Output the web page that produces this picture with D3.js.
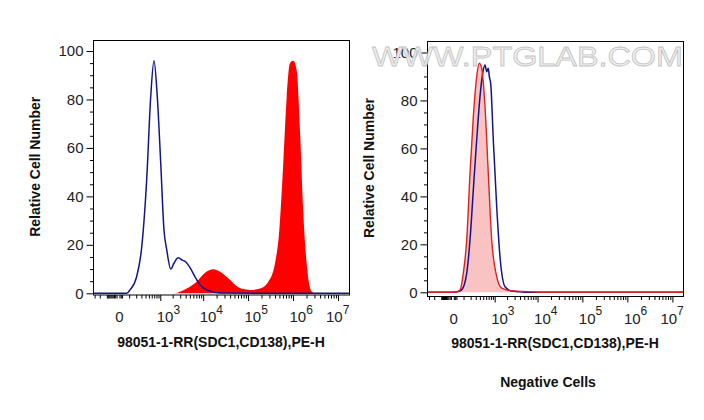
<!DOCTYPE html>
<html><head><meta charset="utf-8">
<script src="https://cdn.jsdelivr.net/npm/d3@7/dist/d3.min.js"></script>
<style>
html,body{margin:0;padding:0;background:#fff;}
svg text{font-family:"Liberation Sans",Arial,sans-serif;}
</style></head>
<body>
<svg id="chart" width="704" height="420"></svg>
<script>
// ---------- DATA ----------
const yTickValues = [0, 20, 40, 60, 80, 100];
const xMajorTicks = [1e3, 1e4, 1e5, 1e6, 1e7];
const xMajorExponents = ["3", "4", "5", "6", "7"];
const xZeroLabel = "0";
const yTitle = "Relative Cell Number";
const xTitle = "98051-1-RR(SDC1,CD138),PE-H";
const rightCaption = "Negative Cells";
const watermark = "WWW.PTGLAB.COM";

// Left panel: control (blue line) and stained (red filled)
const leftControlX = [-330, 73, 110, 208, 307, 434, 562, 689, 840, 1024, 1236, 1440, 1800, 2150, 2700, 3350, 4000, 5000, 6500, 8500, 12000, 24000, 1.75e7];
const leftControlY = [0, 0, 1.4, 6.9, 19, 47, 81, 96, 81, 54, 26, 18, 10, 12.5, 14.7, 13.7, 13, 10.7, 6.9, 3.4, 1.4, 0.1, 0];
const leftStainedX = [-330, 2070, 4230, 7140, 11000, 16900, 23800, 36500, 61000, 111000, 185000, 283000, 399000, 497000, 610000, 726000, 859000, 1017000, 1210000, 1432000, 1695000, 2080000, 2600000, 3080000, 1.75e7];
const leftStainedY = [0, 0, 2, 4.8, 8.5, 9.9, 8.9, 6.2, 2.5, 1.4, 2, 4.8, 12.4, 26, 54, 81, 95, 96, 92, 67, 33, 9.6, 0.7, 0, 0];

// Right panel: control (blue line) and stained (pink filled, red outline)
const rightControlX = [-330, 0, 46, 79, 140, 190, 249, 320, 403, 501, 559, 621, 685, 728, 792, 923, 1123, 1353, 1785, 2567, 4000, 6000, 1.75e7];
const rightControlY = [0, 0, 0.3, 1, 7.9, 21.8, 42.7, 63.5, 81.6, 92.7, 94.8, 92, 93.4, 90, 87, 63.5, 35.7, 14.8, 2.3, 0.5, 0.2, 0, 0];
const rightStainedX = [-330, 18, 62, 97, 140, 190, 249, 320, 384, 452, 559, 685, 840, 1079, 1488, 2567, 6078, 11340, 1.75e7];
const rightStainedY = [0, 0, 1, 7.9, 21.8, 49.6, 73.2, 89.9, 95.5, 93.4, 77.4, 49.6, 21.8, 7.9, 1.7, 0.6, 0.3, 0, 0];

// ---------- LAYOUT ----------
const svg = d3.select("#chart");
const BLUE = "#14148a", RED = "#ff0000", RED_LINE = "#dd2020", PINK = "#f9c3c3";

const panels = [
  {frame:{l:93.5, t:40.5, r:349.5, b:295}, x0:118, y0:293.3, y100:51,
   ctrlX:leftControlX, ctrlY:leftControlY, stX:leftStainedX, stY:leftStainedY,
   fill:RED, stroke:null, yTitleX:40, xTitleY:347},
  {frame:{l:427.5, t:41.5, r:683.5, b:296.5}, x0:452.4, y0:292.3, y100:52.5,
   ctrlX:rightControlX, ctrlY:rightControlY, stX:rightStainedX, stY:rightStainedY,
   fill:PINK, stroke:RED_LINE, yTitleX:374, xTitleY:348}
];

panels.forEach((p, i) => {
  const f = p.frame;
  const x = d3.scaleSymlog().constant(130).domain([0, 1e7]).range([p.x0, p.x0 + 220]);
  const y = d3.scaleLinear().domain([0, 100]).range([p.y0, p.y100]);
  const g = svg.append("g");
  const clipId = "clip" + i;
  svg.append("clipPath").attr("id", clipId).append("rect")
    .attr("x", f.l).attr("y", f.t).attr("width", f.r - f.l).attr("height", f.b - f.t);

  const plot = g.append("g").attr("clip-path", `url(#${clipId})`);
  const stData = p.stX.map((v, k) => [v, p.stY[k]]);
  const ctData = p.ctrlX.map((v, k) => [v, p.ctrlY[k]]);
  const area = d3.area().x(d => x(d[0])).y0(y(0)).y1(d => y(d[1])).curve(d3.curveMonotoneX);
  const line = d3.line().x(d => x(d[0])).y(d => y(d[1])).curve(d3.curveMonotoneX);

  plot.append("path").attr("d", area(stData)).attr("fill", p.fill);
  plot.append("path").attr("d", line(ctData)).attr("fill", "none").attr("stroke", BLUE).attr("stroke-width", 1.5);
  if (p.stroke) {
    plot.append("path").attr("d", line(stData)).attr("fill", "none").attr("stroke", p.stroke).attr("stroke-width", 1.4);
  }

  // frame
  g.append("rect").attr("x", f.l).attr("y", f.t).attr("width", f.r - f.l).attr("height", f.b - f.t)
    .attr("fill", "none").attr("stroke", "#000").attr("stroke-width", 1);

  // y axis: major + minor
  const yMinor = d3.range(0, 101, 5).filter(v => v % 20 !== 0);
  const yAxMaj = d3.axisLeft(y).tickValues(yTickValues).tickSize(7).tickFormat(d => d).tickPadding(3);
  const yAxMin = d3.axisLeft(y).tickValues(yMinor).tickSize(3.5).tickFormat("");
  const ya = g.append("g").attr("transform", `translate(${f.l},0)`).call(yAxMaj);
  const ym = g.append("g").attr("transform", `translate(${f.l},0)`).call(yAxMin);
  [ya, ym].forEach(s => { s.select(".domain").remove(); s.selectAll("line").attr("stroke", "#000"); });
  ya.selectAll("text").attr("font-size", 15).attr("fill", "#222")
    .style("font-family", "'Liberation Sans', Arial, sans-serif");

  // x axis: major + minor
  const xMinor = [];
  [-300, -200, -100].forEach(v => xMinor.push(v));
  for (let v = -90; v <= 30; v += 10) if (v !== 0) xMinor.push(v);
  for (let v = 100; v <= 900; v += 100) xMinor.push(v);
  for (let e = 3; e < 7; e++) for (let m = 2; m <= 9; m++) xMinor.push(m * Math.pow(10, e));
  const xAxMaj = d3.axisBottom(x).tickValues(xMajorTicks).tickSize(6).tickFormat("");
  const xAxMin = d3.axisBottom(x).tickValues(xMinor).tickSize(3.5).tickFormat("");
  const xa = g.append("g").attr("transform", `translate(0,${f.b})`).call(xAxMaj);
  const xm = g.append("g").attr("transform", `translate(0,${f.b})`).call(xAxMin);
  [xa, xm].forEach(s => { s.select(".domain").remove(); s.selectAll("line").attr("stroke", "#000").attr("stroke-width", 1); });

  const labY = f.b + 27;
  g.append("text").attr("x", x(0) + 1.3).attr("y", labY).attr("text-anchor", "middle")
    .attr("font-size", 15).attr("fill", "#222").text(xZeroLabel);
  xMajorTicks.forEach((v, k) => {
    const sx = x(v) - (k === 4 ? 12 : 3.5);
    const t = g.append("text").attr("x", sx).attr("y", labY).attr("font-size", 15).attr("fill", "#222");
    t.append("tspan").text("10");
    t.append("tspan").attr("dy", -8.5).attr("font-size", 12).text(xMajorExponents[k]);
  });

  // titles
  const cy = (f.t + f.b) / 2 - 1;
  g.append("text").attr("transform", `translate(${p.yTitleX},${cy}) rotate(-90)`)
    .attr("text-anchor", "middle").attr("font-size", 14).attr("font-weight", "bold").attr("fill", "#111").text(yTitle);
  g.append("text").attr("x", (f.l + f.r) / 2 - 0.5).attr("y", p.xTitleY).attr("text-anchor", "middle")
    .attr("font-size", 14).attr("font-weight", "bold").attr("fill", "#111").text(xTitle);
});

svg.append("text").attr("x", 548).attr("y", 387).attr("text-anchor", "middle")
  .attr("font-size", 14).attr("font-weight", "bold").attr("fill", "#111").text(rightCaption);

// watermark
svg.append("text").attr("x", 372).attr("y", 66).attr("font-size", 28)
  .attr("textLength", 311).attr("lengthAdjust", "spacingAndGlyphs")
  .attr("fill", "#eeeeee").attr("fill-opacity", 0.92).attr("stroke", "#c4c4c4").attr("stroke-width", 0.8)
  .text(watermark);
</script>
</body></html>
